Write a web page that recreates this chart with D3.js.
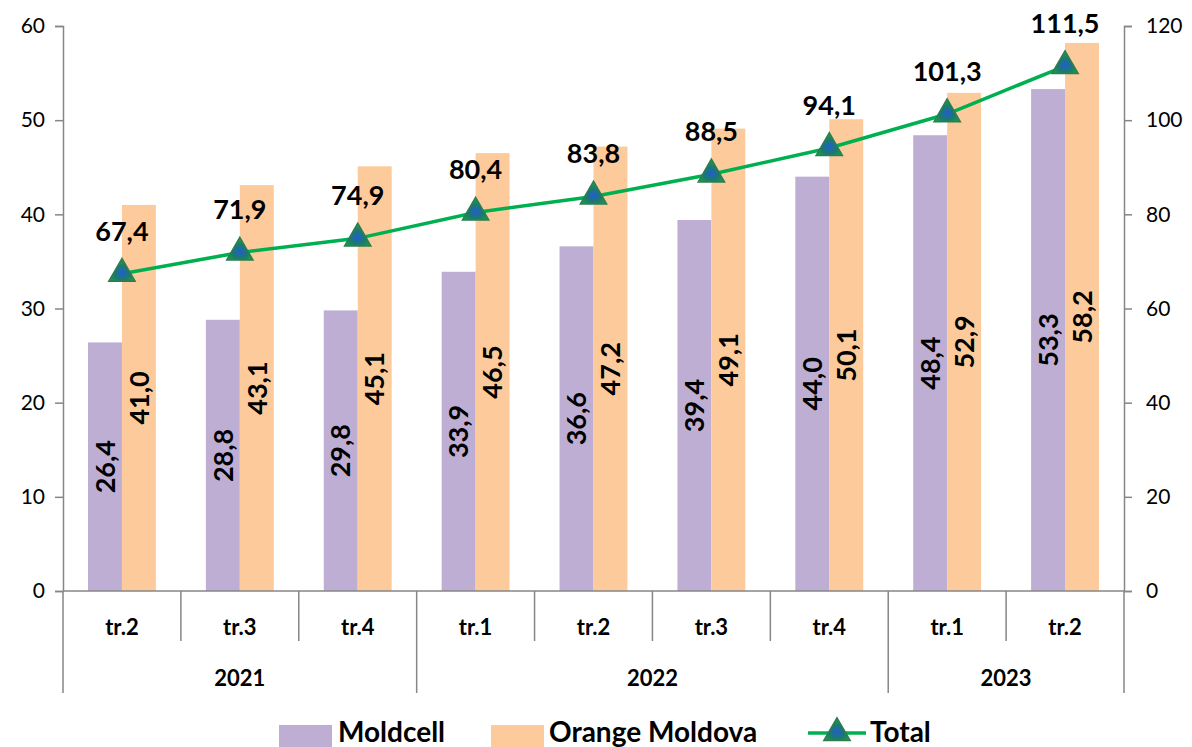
<!DOCTYPE html>
<html>
<head>
<meta charset="utf-8">
<script src="https://cdn.jsdelivr.net/npm/d3@7"></script>
<style>
  body { margin: 0; background: #fff; }
  svg { font-family: Lato, "Open Sans", sans-serif; }
</style>
</head>
<body>
<div id="chart"></div>
<script>
// quarters and years
const quarters = ["tr.2", "tr.3", "tr.4", "tr.1", "tr.2", "tr.3", "tr.4", "tr.1", "tr.2"];
const years = [
  { label: "2021", start: 0, end: 3 },
  { label: "2022", start: 3, end: 7 },
  { label: "2023", start: 7, end: 9 }
];
const moldcell = [26.4, 28.8, 29.8, 33.9, 36.6, 39.4, 44.0, 48.4, 53.3];
const orange = [41.0, 43.1, 45.1, 46.5, 47.2, 49.1, 50.1, 52.9, 58.2];
const total = [67.4, 71.9, 74.9, 80.4, 83.8, 88.5, 94.1, 101.3, 111.5];
const leftTicks = [0, 10, 20, 30, 40, 50, 60];
const rightTicks = [0, 20, 40, 60, 80, 100, 120];

const width = 1192, height = 747;
const margin = { top: 26, right: 68, bottom: 156, left: 63 };
const innerW = width - margin.left - margin.right;
const innerH = height - margin.top - margin.bottom;

const colMold = "#bfaed4", colOrange = "#fdcb9b", colLine = "#00b050", axisCol = "#868686";
const fmt = v => d3.format(".1f")(v).replace(".", ",");

const svg = d3.select("#chart").append("svg")
  .attr("width", width).attr("height", height);

const defs = svg.append("defs");
const grad = defs.append("radialGradient").attr("id", "triGrad")
  .attr("cx", "50%").attr("cy", "62%").attr("r", "55%");
grad.append("stop").attr("offset", "0%").attr("stop-color", "#1f5fd0");
grad.append("stop").attr("offset", "55%").attr("stop-color", "#1b7a6a");
grad.append("stop").attr("offset", "100%").attr("stop-color", "#1e9a4e");

const chart = svg.append("g").attr("transform", `translate(${margin.left},${margin.top})`);

const x = d3.scaleBand().domain(d3.range(quarters.length)).range([0, innerW]);
const yL = d3.scaleLinear().domain([0, 60]).range([innerH, 0]);
const yR = d3.scaleLinear().domain([0, 120]).range([innerH, 0]);
const barW = x.bandwidth() * 0.288;
const cx = i => x(i) + x.bandwidth() / 2;

// bars
chart.selectAll(".bar-m").data(moldcell).enter().append("rect")
  .attr("x", (d, i) => cx(i) - barW)
  .attr("y", d => yL(d))
  .attr("width", barW)
  .attr("height", d => innerH - yL(d))
  .attr("fill", colMold);

chart.selectAll(".bar-o").data(orange).enter().append("rect")
  .attr("x", (d, i) => cx(i))
  .attr("y", d => yL(d))
  .attr("width", barW)
  .attr("height", d => innerH - yL(d))
  .attr("fill", colOrange);

// bar labels (rotated, centred in bar)
const barLabel = (data, off) => chart.selectAll(null).data(data).enter().append("text")
  .attr("transform", (d, i) => `translate(${cx(i) + off},${(yL(d) + innerH) / 2}) rotate(-90)`)
  .attr("text-anchor", "middle")
  .attr("dy", "0.36em")
  .attr("font-size", 27).attr("font-weight", "bold").attr("fill", "#000")
  .text(d => fmt(d));
barLabel(moldcell, -barW / 2);
barLabel(orange, barW / 2);

// axes
const left = chart.append("g").call(d3.axisLeft(yL).tickValues(leftTicks).tickSize(8).tickPadding(10));
const right = chart.append("g").attr("transform", `translate(${innerW},0)`)
  .call(d3.axisRight(yR).tickValues(rightTicks).tickSize(8).tickPadding(14));
[left, right].forEach(a => {
  a.select(".domain").attr("stroke", axisCol).attr("stroke-width", 1.5);
  a.selectAll(".tick line").attr("stroke", axisCol).attr("stroke-width", 1.5);
  a.selectAll(".tick text").attr("font-size", 21).attr("fill", "#000")
    .attr("font-family", "Lato, sans-serif");
});

// category axis
const xa = chart.append("g").attr("transform", `translate(0,${innerH})`);
xa.append("line").attr("x1", 0).attr("x2", innerW).attr("stroke", axisCol).attr("stroke-width", 1.5);
const yearEdges = new Set(years.flatMap(y => [y.start, y.end]));
xa.selectAll(".sep").data(d3.range(quarters.length + 1)).enter().append("line")
  .attr("x1", i => i < quarters.length ? x(i) : innerW)
  .attr("x2", i => i < quarters.length ? x(i) : innerW)
  .attr("y1", 0)
  .attr("y2", i => yearEdges.has(i) ? 102 : 50)
  .attr("stroke", axisCol).attr("stroke-width", 1.5);
xa.selectAll(".q").data(quarters).enter().append("text")
  .attr("x", (d, i) => cx(i)).attr("y", 44)
  .attr("text-anchor", "middle").attr("font-size", 22).attr("font-weight", "bold")
  .text(d => d);
xa.selectAll(".yr").data(years).enter().append("text")
  .attr("x", d => ((d.start ? x(d.start) : 0) + (d.end < quarters.length ? x(d.end) : innerW)) / 2)
  .attr("y", 95)
  .attr("text-anchor", "middle").attr("font-size", 22).attr("font-weight", "bold")
  .text(d => d.label);

// total line
const line = d3.line().x((d, i) => cx(i)).y(d => yR(d));
chart.append("path").datum(total).attr("d", line)
  .attr("fill", "none").attr("stroke", colLine).attr("stroke-width", 3.5);

const tri = d3.symbol().type(d3.symbolTriangle).size(300);
chart.selectAll(".mk").data(total).enter().append("path")
  .attr("d", tri)
  .attr("transform", (d, i) => `translate(${cx(i)},${yR(d)})`)
  .attr("fill", "url(#triGrad)").attr("stroke", "#2e7d4f").attr("stroke-width", 1.5);

chart.selectAll(".tl").data(total).enter().append("text")
  .attr("x", (d, i) => cx(i)).attr("y", d => yR(d) - 33)
  .attr("text-anchor", "middle").attr("font-size", 27).attr("font-weight", "bold")
  .text(d => fmt(d));

// legend
const legend = svg.append("g").attr("transform", "translate(0,733)");
legend.append("rect").attr("x", 279).attr("y", -8).attr("width", 53).attr("height", 22).attr("fill", colMold);
legend.append("text").attr("x", 338).attr("y", 9).attr("font-size", 28).attr("font-weight", "bold").text("Moldcell");
legend.append("rect").attr("x", 491).attr("y", -8).attr("width", 53).attr("height", 22).attr("fill", colOrange);
legend.append("text").attr("x", 549).attr("y", 9).attr("font-size", 28).attr("font-weight", "bold").text("Orange Moldova");
legend.append("line").attr("x1", 808).attr("x2", 866).attr("y1", 0).attr("y2", 0)
  .attr("stroke", colLine).attr("stroke-width", 3.5);
legend.append("path").attr("d", tri).attr("transform", "translate(837,0)")
  .attr("fill", "url(#triGrad)").attr("stroke", "#2e7d4f").attr("stroke-width", 1.5);
legend.append("text").attr("x", 870).attr("y", 9).attr("font-size", 28).attr("font-weight", "bold").text("Total");
</script>
</body>
</html>
